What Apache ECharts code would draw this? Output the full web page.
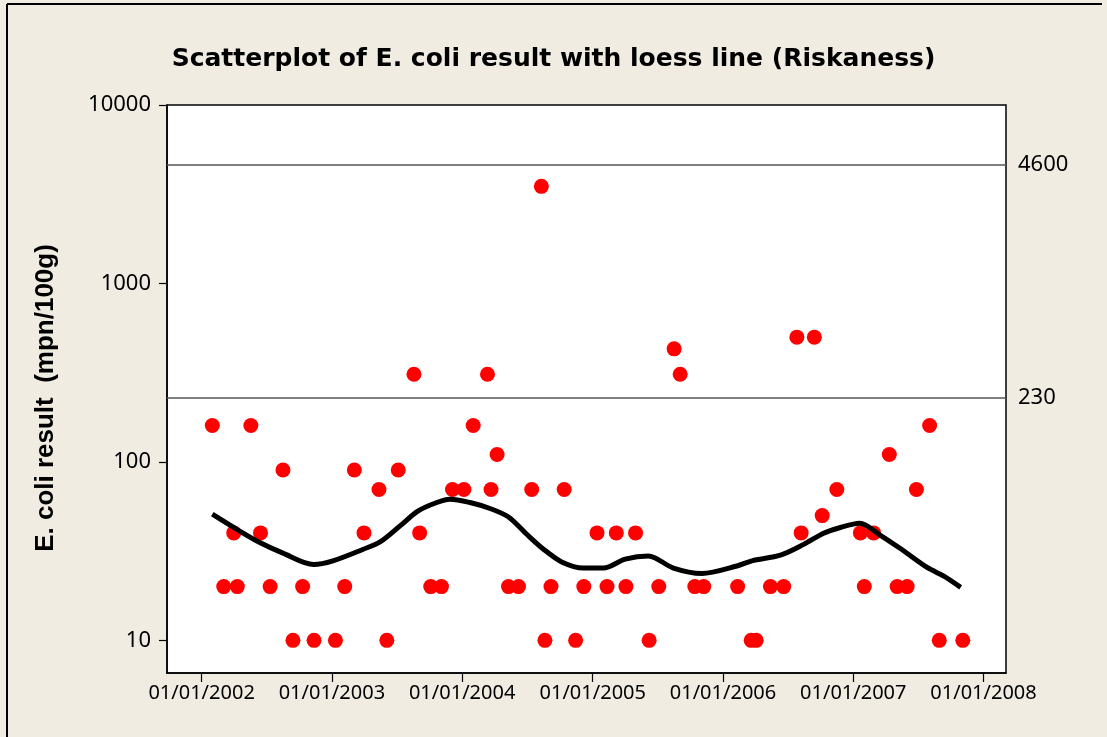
<!DOCTYPE html>
<html>
<head>
<meta charset="utf-8">
<script src="https://cdn.jsdelivr.net/npm/echarts@6/dist/echarts.min.js"></script>
<style>
    html, body { margin: 0; padding: 0; background: #f0ece2; }
    #chart { width: 1107px; height: 737px; }
</style>
</head>
<body>
<div id="chart"></div>
<script>
    // sample dates and E. coli results (mpn/100g)
    var sampleDates = [
        '2002-01-31', '2002-03-04', '2002-04-01', '2002-04-11', '2002-05-19', '2002-06-15',
        '2002-07-12', '2002-08-17', '2002-09-14', '2002-10-11', '2002-11-12', '2003-01-11',
        '2003-02-06', '2003-03-05', '2003-04-01', '2003-05-13', '2003-06-04', '2003-07-06',
        '2003-08-19', '2003-09-04', '2003-10-05', '2003-11-04', '2003-12-05', '2004-01-06',
        '2004-02-01', '2004-03-12', '2004-03-22', '2004-04-08', '2004-05-10', '2004-06-07',
        '2004-07-14', '2004-08-10', '2004-08-20', '2004-09-06', '2004-10-13', '2004-11-14',
        '2004-12-07', '2005-01-13', '2005-02-10', '2005-03-08', '2005-04-04', '2005-05-01',
        '2005-06-08', '2005-07-05', '2005-08-17', '2005-09-03', '2005-10-14', '2005-11-08',
        '2006-02-11', '2006-03-21', '2006-04-04', '2006-05-14', '2006-06-20', '2006-07-27',
        '2006-08-08', '2006-09-14', '2006-10-06', '2006-11-16', '2007-01-21', '2007-02-01',
        '2007-02-27', '2007-04-12', '2007-05-04', '2007-06-01', '2007-06-27', '2007-08-03',
        '2007-08-30', '2007-11-04'
    ];
    var results = [
        160, 20, 40, 20, 160, 40,
        20, 90, 10, 20, 10, 10,
        20, 90, 40, 70, 10, 90,
        310, 40, 20, 20, 70, 70,
        160, 310, 70, 110, 20, 20,
        70, 3500, 10, 20, 70, 10,
        20, 40, 20, 40, 20, 40,
        10, 20, 430, 310, 20, 20,
        20, 10, 10, 20, 20, 500,
        40, 500, 50, 70, 40, 20,
        40, 110, 20, 20, 70, 160,
        10, 10
    ];

    // loess fit
    var loessDates = [
        '2002-01-31', '2002-04-01', '2002-06-13', '2002-08-17', '2002-11-11', '2003-01-04',
        '2003-03-30', '2003-05-16', '2003-07-11', '2003-08-31', '2003-10-22', '2003-11-28',
        '2004-01-23', '2004-03-19', '2004-05-10', '2004-06-30', '2004-08-16', '2004-10-06',
        '2004-12-06', '2005-01-31', '2005-04-02', '2005-06-06', '2005-08-15', '2005-11-03',
        '2006-02-09', '2006-03-23', '2006-06-11', '2006-08-15', '2006-10-10', '2006-11-26',
        '2007-01-19', '2007-03-18', '2007-05-13', '2007-07-27', '2007-09-12', '2007-10-29'
    ];
    var loessValues = [
        50.9, 42.9, 35.3, 30.8, 26.6, 27.9,
        32.4, 35.6, 43.8, 53.1, 59.2, 61.8,
        59.2, 54.8, 49.1, 39.3, 32.4, 27.5,
        25.4, 25.4, 28.5, 29.7, 25.4, 23.7,
        26.1, 27.9, 30.0, 34.5, 39.8, 42.9,
        45.3, 38.8, 32.7, 25.6, 22.9, 19.8
    ];

    var limitValues = [230, 4600];
    var yTicks = [10, 100, 1000, 10000];
    var xTicks = ['2002-01-01', '2003-01-01', '2004-01-01', '2005-01-01', '2006-01-01', '2007-01-01', '2008-01-01'];

    function ts(d) { return Date.parse(d); }

    var scatterData = sampleDates.map(function (d, i) { return [ts(d), results[i]]; });
    var loessData = loessDates.map(function (d, i) { return [ts(d), loessValues[i]]; });
    var xTickValues = xTicks.map(ts);

    var myChart = echarts.init(document.getElementById('chart'));
    var option = {
        backgroundColor: '#f0ece2',
        animation: false,
        title: {
            text: 'Scatterplot of E. coli result with loess line (Riskaness)',
            left: 'center',
            top: 42,
            textStyle: {
                fontFamily: 'DejaVu Sans',
                fontWeight: 'bold',
                fontSize: 25,
                color: '#000'
            }
        },
        grid: {
            left: 167,
            right: 101,
            top: 105,
            bottom: 64,
            show: true,
            backgroundColor: '#fff',
            borderColor: '#000',
            borderWidth: 1.5,
            outerBoundsMode: 'none'
        },
        xAxis: {
            type: 'value',
            min: ts('2001-09-26'),
            max: ts('2008-03-04'),
            axisLine: { lineStyle: { color: '#000', width: 1.5 } },
            axisTick: {
                customValues: xTickValues,
                length: 9,
                lineStyle: { color: '#000', width: 1.2 }
            },
            axisLabel: {
                customValues: xTickValues,
                formatter: function (v) {
                    var d = new Date(v);
                    return '01/01/' + d.getUTCFullYear();
                },
                fontFamily: 'Noto Sans',
                fontSize: 20,
                color: '#000',
                margin: 10
            },
            splitLine: { show: false }
        },
        yAxis: {
            type: 'log',
            logBase: 10,
            min: 6.56,
            max: 10000,
            name: 'E. coli result  (mpn/100g)',
            nameLocation: 'middle',
            nameGap: 108,
            nameTextStyle: {
                fontFamily: 'Liberation Sans',
                fontWeight: 'bold',
                fontSize: 26,
                color: '#000',
                padding: [0, 18, 0, 0]
            },
            axisLine: { show: true, lineStyle: { color: '#000', width: 1.5 } },
            axisTick: {
                customValues: yTicks,
                length: 8,
                lineStyle: { color: '#000', width: 1.2 }
            },
            axisLabel: {
                customValues: yTicks,
                formatter: function (v) { return String(Math.round(v)); },
                fontFamily: 'Noto Sans',
                fontSize: 22,
                color: '#000',
                margin: 16
            },
            splitLine: { show: false }
        },
        series: [
            {
                name: 'E. coli',
                type: 'scatter',
                data: scatterData,
                symbolSize: 15,
                itemStyle: { color: '#ff0000', opacity: 1 },
                z: 2,
                markLine: {
                    silent: true,
                    symbol: 'none',
                    lineStyle: { color: '#555', width: 1.5, type: 'solid' },
                    label: {
                        position: 'end',
                        distance: 12,
                        formatter: '{c}',
                        fontFamily: 'Noto Sans',
                        fontSize: 22,
                        color: '#000'
                    },
                    data: limitValues.map(function (v) { return { yAxis: v }; })
                }
            },
            {
                name: 'loess',
                type: 'line',
                data: loessData,
                showSymbol: false,
                smooth: 0.3,
                lineStyle: { color: '#000', width: 5 },
                z: 3
            }
        ],
        graphic: [
            { type: 'line', shape: { x1: 7, y1: 4, x2: 1102, y2: 4 }, style: { stroke: '#000', lineWidth: 2 } },
            { type: 'line', shape: { x1: 7, y1: 4, x2: 7, y2: 737 }, style: { stroke: '#000', lineWidth: 2 } }
        ]
    };
    myChart.setOption(option);
</script>
</body>
</html>
